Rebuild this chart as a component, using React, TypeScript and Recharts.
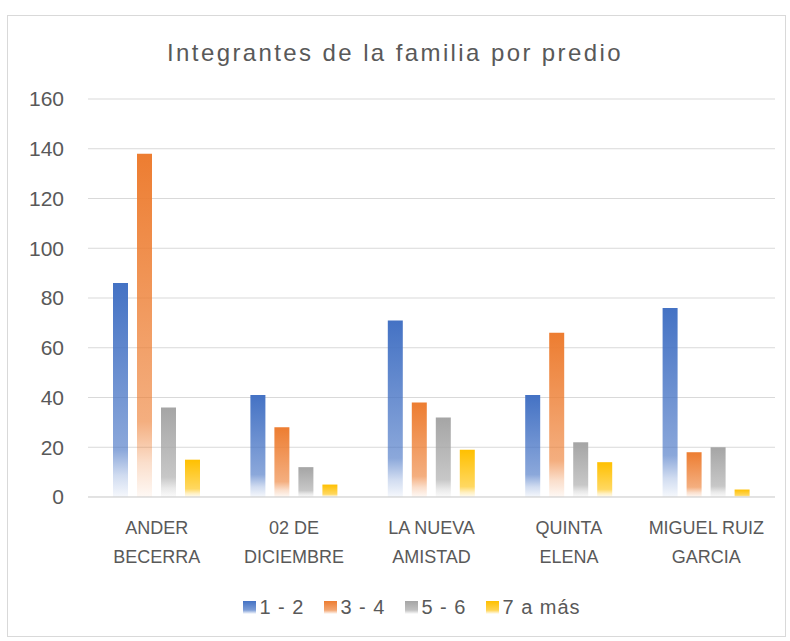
import React from "react";
import { BarChart, Bar, XAxis, YAxis, CartesianGrid, Legend } from "recharts";

const categories = ["ANDER BECERRA", "02 DE DICIEMBRE", "LA NUEVA AMISTAD", "QUINTA ELENA", "MIGUEL RUIZ GARCIA"];
const categoryLines = [
  ["ANDER", "BECERRA"],
  ["02 DE", "DICIEMBRE"],
  ["LA NUEVA", "AMISTAD"],
  ["QUINTA", "ELENA"],
  ["MIGUEL RUIZ", "GARCIA"],
];
const seriesNames = ["1 - 2", "3 - 4", "5 - 6", "7 a más"];
const s12 = [86, 41, 71, 41, 76];
const s34 = [138, 28, 38, 66, 18];
const s56 = [36, 12, 32, 22, 20];
const s7 = [15, 5, 19, 14, 3];
const yTicks = [0, 20, 40, 60, 80, 100, 120, 140, 160];

const COLORS = ["#4472C4", "#ED7D31", "#A5A5A5", "#FFC000"];
const KEYS = ["a", "b", "c", "d"];

const data = categories.map((name, i) => ({
  name,
  a: s12[i],
  b: s34[i],
  c: s56[i],
  d: s7[i],
}));

const FONT = "'Liberation Sans', Arial, sans-serif";
const TEXT = "#595959";

function CategoryTick(props: any) {
  const { x, y, payload } = props;
  const lines = categoryLines[payload.index] || [payload.value];
  return (
    <text x={x} y={y} textAnchor="middle" fill={TEXT} fontSize={18} fontFamily={FONT}>
      {lines.map((l: string, k: number) => (
        <tspan key={k} x={x} dy={k === 0 ? 29 : 29}>
          {l}
        </tspan>
      ))}
    </text>
  );
}

function LegendContent() {
  return (
    <div
      style={{
        display: "flex",
        justifyContent: "center",
        gap: 20,
        paddingLeft: 34,
        fontFamily: FONT,
        fontSize: 20,
        letterSpacing: 1,
        color: TEXT,
        height: 0,
        overflow: "visible",
      }}
    >
      {seriesNames.map((n, i) => (
        <div key={n} style={{ display: "flex", alignItems: "center", height: 24 }}>
          <div
            style={{
              width: 13,
              height: 13,
              marginRight: 3,
              background: `linear-gradient(to bottom, ${COLORS[i]} 0%, ${COLORS[i]}b0 70%, #ffffff 100%)`,
            }}
          />
          <span>{n}</span>
        </div>
      ))}
    </div>
  );
}

export default function App() {
  return (
    <div style={{ position: "absolute", left: 0, top: 0, width: 790, height: 641, background: "#fff" }}>
      <div
        style={{
          position: "absolute",
          left: 7,
          top: 15,
          width: 779,
          height: 622,
          border: "1px solid #D9D9D9",
          boxSizing: "border-box",
        }}
      />
      <div
        style={{
          position: "absolute",
          left: 0,
          top: 39,
          width: 790,
          textAlign: "center",
          fontFamily: FONT,
          fontSize: 24,
          letterSpacing: 2.4,
          color: TEXT,
        }}
      >
        Integrantes de la familia por predio
      </div>
      <div style={{ position: "absolute", left: 0, top: 0 }}>
        <BarChart
          width={790}
          height={641}
          data={data}
          margin={{ top: 99, right: 15, left: 0, bottom: 114 }}
          barGap={9}
          barCategoryGap={24}
        >
          <defs>
            {COLORS.map((c, i) => (
              <linearGradient key={i} id={`grad${i}`} x1="0" y1="0" x2="0" y2="1">
                <stop offset="0%" stopColor={c} stopOpacity={1} />
                <stop offset="78%" stopColor={c} stopOpacity={0.62} />
                <stop offset="90%" stopColor={c} stopOpacity={0.25} />
                <stop offset="100%" stopColor={c} stopOpacity={0.05} />
              </linearGradient>
            ))}
          </defs>
          <CartesianGrid vertical={false} stroke="#D9D9D9" strokeWidth={1} />
          <XAxis
            dataKey="name"
            axisLine={{ stroke: "#D9D9D9" }}
            tickLine={false}
            tick={<CategoryTick />}
            interval={0}
            height={30}
          />
          <YAxis
            width={88}
            domain={[0, 160]}
            ticks={yTicks}
            axisLine={false}
            tickLine={false}
            tickSize={0}
            tickMargin={24}
            tick={{ fill: TEXT, fontSize: 21, fontFamily: FONT }}
          />
          <Legend
            content={<LegendContent />}
            wrapperStyle={{ top: 595, left: 0, width: 790 }}
          />
          {KEYS.map((k, i) => (
            <Bar key={k} dataKey={k} name={seriesNames[i]} fill={`url(#grad${i})`} barSize={15} isAnimationActive={false} />
          ))}
        </BarChart>
      </div>
    </div>
  );
}
